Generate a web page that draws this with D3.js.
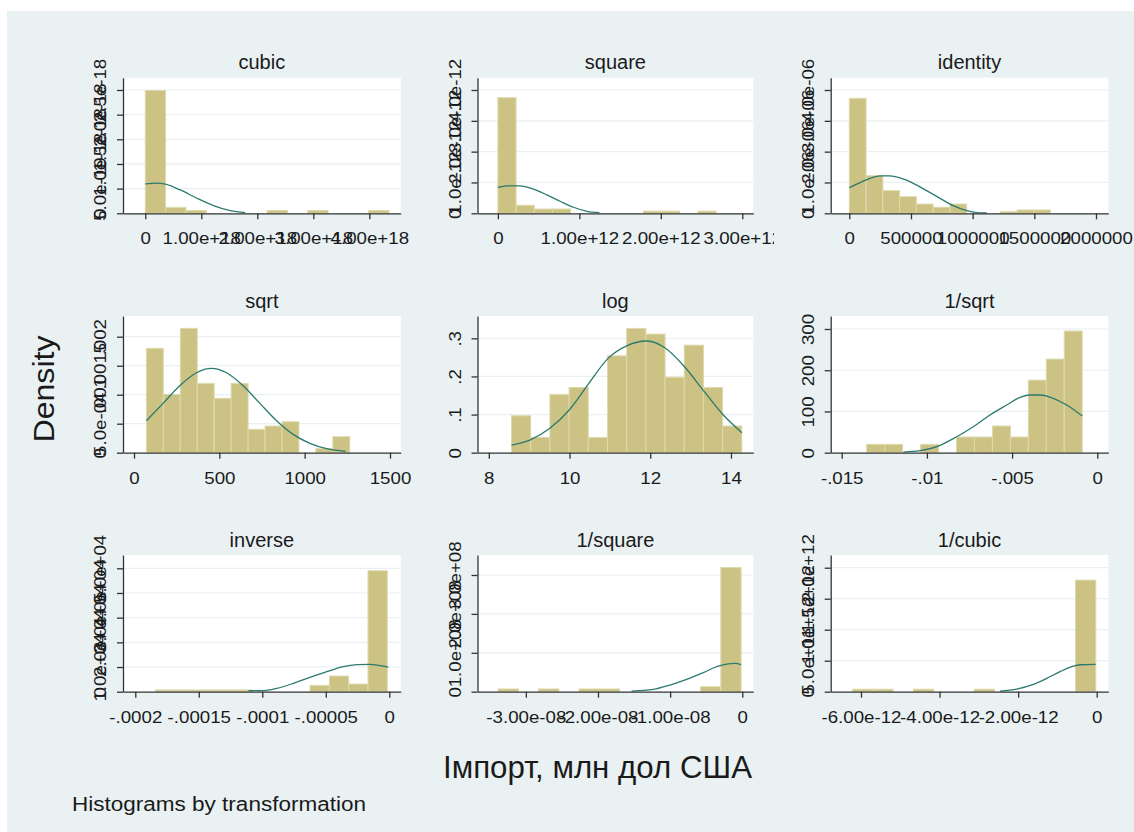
<!DOCTYPE html>
<html><head><meta charset="utf-8">
<script src="https://cdn.jsdelivr.net/npm/d3@7/dist/d3.min.js"></script>
<style>
body{margin:0;background:#fff}
svg{display:block}
text{font-family:"Liberation Sans",Arial,sans-serif;fill:#1a1a1a}
</style>
</head><body>
<svg id="chart" width="1134" height="832"></svg>
<script>
// ---------------- data ----------------
const titles = ["cubic","square","identity","sqrt","log","1/sqrt","inverse","1/square","1/cubic"];

const binStarts = [0, 0, 0, 72.7, 8.563, -0.013533, -0.000184, -3.384e-8, -6.211e-12];
const binWidths = [3.626e17, 2.232e11, 135960, 99.3, 0.4755, 0.001054, 1.52e-5, 2.806e-9, 5.156e-13];

const densities = [
  [2.49e-18, 1.2e-19, 5.5e-20, 0, 0, 0, 5.5e-20, 0, 5.5e-20, 0, 0, 5.5e-20],
  [3.75e-12, 2.6e-13, 1.4e-13, 1.4e-13, 0, 0, 0, 0, 7e-14, 7e-14, 0, 7e-14],
  [3.73e-6, 1.22e-6, 7.35e-7, 5.4e-7, 3.0e-7, 1.95e-7, 3.0e-7, 0, 0, 5.4e-8, 1.08e-7, 1.08e-7],
  [0.0018, 0.001006, 0.002144, 0.001195, 0.000937, 0.001195, 0.000402, 0.00046, 0.000534, 0, 0.00007, 0.000276],
  [0.097, 0.040, 0.153, 0.171, 0.040, 0.254, 0.326, 0.311, 0.198, 0.282, 0.171, 0.070],
  [20.2, 20.2, 0, 20.2, 0, 38, 38, 64.7, 38, 176, 227, 295],
  [700, 700, 700, 700, 700, 0, 0, 0, 2570, 6350, 3100, 49000],
  [7e6, 0, 7e6, 0, 7e6, 7e6, 0, 0, 0, 0, 1.29e7, 3.19e8],
  [4e10, 4e10, 0, 4e10, 0, 0, 4e10, 0, 0, 0, 0, 1.8e12]
];

const curveX = [
  [0, 0.208e18, 0.357e18, 0.624e18, 0.921e18, 1.218e18, 1.516e18, 1.784e18],
  [0, 0.110e12, 0.274e12, 0.437e12, 0.601e12, 0.764e12, 0.928e12, 1.092e12, 1.247e12],
  [0, 86700, 167800, 248800, 329800, 410900, 518700, 626700, 734700, 842800, 951400, 1018700, 1113500],
  [72.5, 170.3, 268.1, 365.9, 453.9, 541.9, 639.6, 737.4, 835.2, 932.9, 1030.7, 1128.5, 1240],
  [8.563, 9.017, 9.513, 9.991, 10.48, 10.96, 11.43, 11.91, 12.38, 12.86, 13.34, 13.81, 14.27],
  [-0.01138, -0.01040, -0.00942, -0.00825, -0.00728, -0.00630, -0.00532, -0.00453, -0.00395, -0.00336, -0.00258, -0.00180, -0.00088],
  [-0.0001109, -0.0001004, -0.0000886, -0.0000755, -0.0000624, -0.0000492, -0.0000362, -0.0000256, -0.0000152, -0.0000073, -0.0000008],
  [-1.534e-8, -1.234e-8, -1.003e-8, -7.71e-9, -5.41e-9, -3.55e-9, -2.16e-9, -1.01e-9, -1.8e-10],
  [-2.461e-12, -2.036e-12, -1.613e-12, -1.272e-12, -0.933e-12, -0.636e-12, -0.424e-12, -0.025e-12]
];
const curveY = [
  [5.96e-19, 6.1e-19, 5.9e-19, 4.74e-19, 3.05e-19, 1.56e-19, 5.4e-20, 1.4e-20],
  [0.837e-12, 0.891e-12, 0.891e-12, 0.783e-12, 0.598e-12, 0.391e-12, 0.196e-12, 0.065e-12, 0.02e-12],
  [0.832e-6, 0.995e-6, 1.135e-6, 1.211e-6, 1.211e-6, 1.146e-6, 0.973e-6, 0.735e-6, 0.486e-6, 0.249e-6, 0.086e-6, 0.032e-6, 0.01e-6],
  [0.000552, 0.000851, 0.001155, 0.001379, 0.001454, 0.001379, 0.001155, 0.000851, 0.000552, 0.000316, 0.000161, 0.000069, 0.000023],
  [0.0201, 0.0332, 0.0639, 0.112, 0.182, 0.248, 0.281, 0.293, 0.274, 0.224, 0.160, 0.0989, 0.0525],
  [1.6, 4.9, 14.6, 38.8, 63.1, 91.4, 115.6, 134.2, 139.9, 139.9, 131.8, 115.6, 88.9],
  [405, 405, 1351, 3378, 5811, 8108, 10135, 10946, 11081, 10541, 10000],
  [1.71e6, 6.0e6, 1.71e7, 3.17e7, 4.88e7, 6.43e7, 7.11e7, 7.28e7, 6.94e7],
  [1.08e10, 4.3e10, 1.18e11, 2.15e11, 3.23e11, 4.03e11, 4.35e11, 4.41e11]
];

const xDomains = [
  [-3.977e17, 4.560e18], [-2.502e11, 3.135e12], [-150790, 2099700],
  [-64.5, 1562.7], [7.720, 14.553], [-0.015646, 0.000646],
  [-0.00020967, 8.966e-6], [-3.670e-8, 1.526e-9], [-6.771e-12, 2.953e-13]
];
const yMaxes = [2.749e-18, 4.399e-12, 4.399e-6, 0.002357, 0.3585, 331.5, 55389, 3.514e8, 2.205e12];

const xTicks = [
  [0, 1e18, 2e18, 3e18, 4e18], [0, 1e12, 2e12, 3e12], [0, 5e5, 1e6, 1.5e6, 2e6],
  [0, 500, 1000, 1500], [8, 10, 12, 14], [-0.015, -0.01, -0.005, 0],
  [-0.0002, -0.00015, -0.0001, -0.00005, 0], [-3e-8, -2e-8, -1e-8, 0], [-6e-12, -4e-12, -2e-12, 0]
];
const xTickLabels = [
  ["0", "1.00e+18", "2.00e+18", "3.00e+18", "4.00e+18"],
  ["0", "1.00e+12", "2.00e+12", "3.00e+12"],
  ["0", "500000", "1000000", "1500000", "2000000"],
  ["0", "500", "1000", "1500"],
  ["8", "10", "12", "14"],
  ["-.015", "-.01", "-.005", "0"],
  ["-.0002", "-.00015", "-.0001", "-.00005", "0"],
  ["-3.00e-08", "-2.00e-08", "-1.00e-08", "0"],
  ["-6.00e-12", "-4.00e-12", "-2.00e-12", "0"]
];
const yTicks = [
  [0, 5e-19, 1e-18, 1.5e-18, 2e-18, 2.5e-18], [0, 1e-12, 2e-12, 3e-12, 4e-12], [0, 1e-6, 2e-6, 3e-6, 4e-6],
  [0, 5e-4, 0.001, 0.0015, 0.002], [0, 0.1, 0.2, 0.3], [0, 100, 200, 300],
  [0, 1e4, 2e4, 3e4, 4e4, 5e4], [0, 1e8, 2e8, 3e8], [0, 5e11, 1e12, 1.5e12, 2e12]
];
const yTickLabels = [
  ["0", "5.0e-19", "1.0e-18", "1.5e-18", "2.0e-18", "2.5e-18"],
  ["0", "1.0e-12", "2.0e-12", "3.0e-12", "4.0e-12"],
  ["0", "1.0e-06", "2.0e-06", "3.0e-06", "4.0e-06"],
  ["0", "5.0e-04", ".001", ".0015", ".002"],
  ["0", ".1", ".2", ".3"],
  ["0", "100", "200", "300"],
  ["0", "1.0e+04", "2.0e+04", "3.0e+04", "4.0e+04", "5.0e+04"],
  ["0", "1.0e+08", "2.0e+08", "3.0e+08"],
  ["0", "5.0e+11", "1.0e+12", "1.5e+12", "2.0e+12"]
];

const yAxisTitle = "Density";
const xAxisTitle = "Імпорт, млн дол США";
const noteText = "Histograms by transformation";

// ---------------- layout & style ----------------
const colLeft = [123, 477.5, 830.7];
const colRight = [400.7, 753.3, 1108.3];
const colClip = [[60, 412], [412, 774], [774, 1134]];
const rowTop = [77.7, 316, 555];
const rowAxis = [213.3, 452.7, 691.7];
const bgColor = "#e9f1f3";
const barFill = "#cbc283";
const barStroke = "#dedaae";
const curveColor = "#2b7a6f";
const axisColor = "#333333";
const gridColor = "#e8f0f2";
const tickFont = 17, titleFont = 20, labelStretch = 1.1;

const svg = d3.select("#chart");
svg.append("rect").attr("x", 7).attr("y", 11).attr("width", 1127).attr("height", 821).attr("fill", bgColor);

const defs = svg.append("defs");
colClip.forEach((c, j) => {
  defs.append("clipPath").attr("id", "col" + j)
    .append("rect").attr("x", c[0]).attr("y", 0).attr("width", c[1] - c[0]).attr("height", 832);
});

titles.forEach((title, i) => {
  const r = Math.floor(i / 3), c = i % 3;
  const L = colLeft[c], R = colRight[c], T = rowTop[r], B = rowAxis[r];
  const W = R - L, H = B - T;
  const outer = svg.append("g").attr("clip-path", `url(#col${c})`);
  const g = outer.append("g").attr("transform", `translate(${L},${T})`);

  const x = d3.scaleLinear().domain(xDomains[i]).range([0, W]);
  const y = d3.scaleLinear().domain([0, yMaxes[i]]).range([H, 0]);

  g.append("rect").attr("width", W).attr("height", H).attr("fill", "#fff");

  // grid
  g.selectAll("line.grid").data(yTicks[i].filter(d => d > 0)).join("line")
    .attr("class", "grid").attr("x1", 0).attr("x2", W)
    .attr("y1", d => y(d)).attr("y2", d => y(d))
    .attr("stroke", gridColor).attr("stroke-width", 1.2);

  // bars
  const bins = densities[i].map((d, k) => ({
    x0: binStarts[i] + k * binWidths[i],
    x1: binStarts[i] + (k + 1) * binWidths[i],
    d
  })).filter(b => b.d > 0);
  g.selectAll("rect.bar").data(bins).join("rect").attr("class", "bar")
    .attr("x", b => x(b.x0)).attr("width", b => x(b.x1) - x(b.x0))
    .attr("y", b => y(b.d)).attr("height", b => H - y(b.d))
    .attr("fill", barFill).attr("stroke", barStroke).attr("stroke-width", 1);

  // normal curve
  const pts = curveX[i].map((v, k) => [v, curveY[i][k]]);
  g.append("path").datum(pts)
    .attr("d", d3.line().x(p => x(p[0])).y(p => y(p[1])).curve(d3.curveMonotoneX))
    .attr("fill", "none").attr("stroke", curveColor).attr("stroke-width", 1.3);

  // x axis
  const xa = g.append("g").attr("transform", `translate(0,${H})`)
    .call(d3.axisBottom(x).tickValues(xTicks[i]).tickFormat((d, k) => xTickLabels[i][k]).tickSize(6).tickSizeOuter(0));
  xa.select(".domain").attr("stroke", axisColor).attr("stroke-width", 1.3);
  xa.selectAll(".tick line").attr("stroke", axisColor).attr("stroke-width", 1.3);
  xa.selectAll(".tick text").attr("y", 19).attr("dy", "0.71em")
    .attr("transform", `scale(${labelStretch},1)`)
    .attr("font-size", tickFont).attr("font-family", "Liberation Sans, Arial, sans-serif").attr("fill", "#1a1a1a");

  // y axis
  const ya = g.append("g")
    .call(d3.axisLeft(y).tickValues(yTicks[i]).tickFormat((d, k) => yTickLabels[i][k]).tickSize(6).tickSizeOuter(0));
  ya.select(".domain").attr("stroke", axisColor).attr("stroke-width", 1.3);
  ya.selectAll(".tick line").attr("stroke", axisColor).attr("stroke-width", 1.3);
  ya.selectAll(".tick text").attr("transform", `rotate(-90) scale(${labelStretch},1)`)
    .attr("x", 0).attr("y", -17).attr("dy", 0).attr("text-anchor", "middle")
    .attr("font-size", tickFont).attr("font-family", "Liberation Sans, Arial, sans-serif").attr("fill", "#1a1a1a");

  // title
  g.append("text").attr("x", W / 2).attr("y", -8.5).attr("text-anchor", "middle")
    .attr("font-size", titleFont).text(title);
});

// global titles
svg.append("text").attr("transform", "translate(53.5,389) rotate(-90)")
  .attr("text-anchor", "middle").attr("font-size", 30)
  .attr("textLength", 107).attr("lengthAdjust", "spacingAndGlyphs").text(yAxisTitle);
svg.append("text").attr("x", 443).attr("y", 778)
  .attr("font-size", 31).attr("textLength", 309).attr("lengthAdjust", "spacingAndGlyphs").text(xAxisTitle);
svg.append("text").attr("x", 72).attr("y", 811)
  .attr("font-size", 20).attr("textLength", 294).attr("lengthAdjust", "spacingAndGlyphs").text(noteText);
</script>
</body></html>
